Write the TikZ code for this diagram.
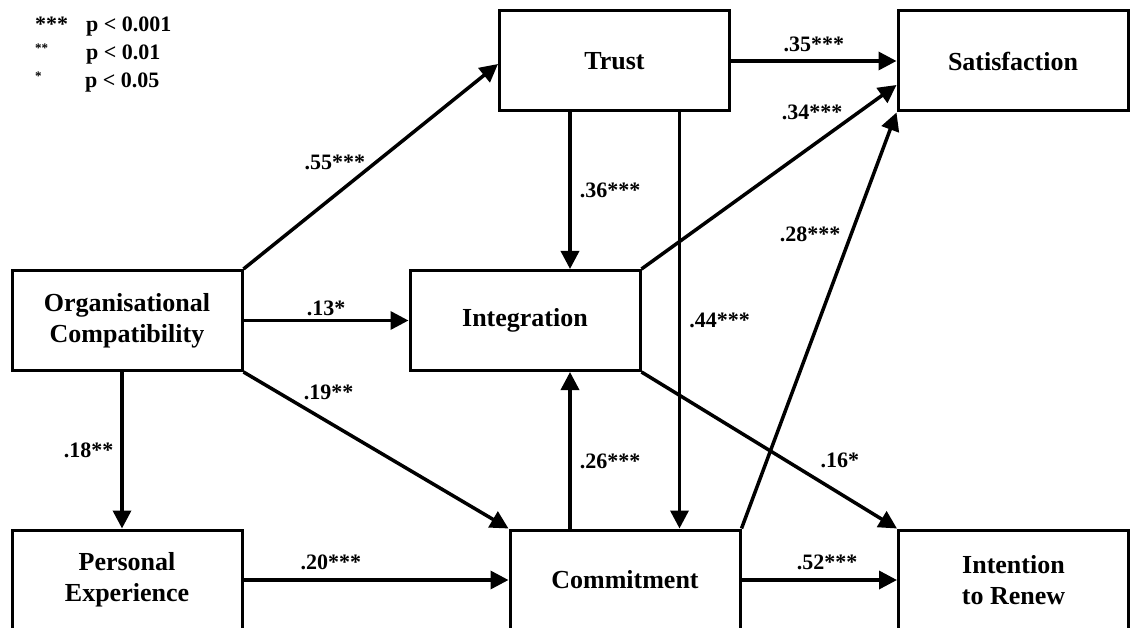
\documentclass[tikz,border=0pt]{standalone}
\usepackage{fontspec}
\setmainfont{Liberation Serif}
\usetikzlibrary{arrows.meta, positioning, calc}

\begin{document}
\begin{tikzpicture}[x=1pt, y=-1pt,
    construct/.style={rectangle, draw=black, line width=3pt, minimum width=230pt, minimum height=100pt, align=center, font=\fontsize{26}{31}\selectfont\bfseries},
    arrow/.style={-{Triangle[length=18pt, width=18pt]}, line width=3.5pt},
    coef/.style={font=\fontsize{22}{26}\selectfont\bfseries, inner sep=2pt},
    legend/.style={anchor=base west, inner sep=0pt, font=\fontsize{22}{26}\selectfont\bfseries},
    smallstar/.style={anchor=base west, inner sep=0pt, font=\fontsize{13}{15}\selectfont\bfseries}
]
\useasboundingbox (0,0) rectangle (1130,628);

% Legend
\node[legend] (s1) at (35,32) {***};
\node[legend] (p1) at (86,32) {p < 0.001};
\node[smallstar] (s2) at (35,53) {**};
\node[legend] (p2) at (86,60) {p < 0.01};
\node[smallstar] (s3) at (35,81) {*};
\node[legend] (p3) at (85,88) {p < 0.05};

% Constructs
\node[construct] (OC) at (127, 320.5) {Organisational\\Compatibility};
\node[construct] (Trust) at (614.5, 61) {Trust};
\node[construct] (Sat) at (1013, 61) {Satisfaction};
\node[construct] (Integ) at (525, 320.5) {Integration};
\node[construct] (Pers) at (127, 580) {Personal\\Experience};
\node[construct] (Commit) at (625, 580) {Commitment};
\node[construct] (Renew) at (1013.5, 580) {Intention\\to Renew};

% Attachment points
\coordinate (tA) at ([xshift=-44.5pt]Trust.south);
\coordinate (tB) at ([xshift=65pt]Trust.south);
\coordinate (oA) at ([xshift=-5pt]OC.south);

% Paths from Organisational Compatibility
\draw[arrow] (OC.north east) -- ([yshift=-3pt]Trust.west) node[pos=0.359, above=22pt] (c55) [coef] {.55***};
\draw[arrow] (OC.east) -- (Integ.west) node[midway, above=1pt] (c13) [coef] {.13*};
\draw[arrow] (OC.south east) -- (Commit.north west) node[pos=0.321, above=19pt] (c19) [coef] {.19**};
\draw[arrow] (oA) -- (oA |- Pers.north) node[midway, left=5pt] (c18) [coef] {.18**};

% Paths from Trust
\draw[arrow] (tA) -- (tA |- Integ.north) node[midway, right=6pt] (c36) [coef] {.36***};
\draw[arrow] (tB) -- (tB |- Commit.north) node[midway, right=6pt] (c44) [coef] {.44***};
\draw[arrow] (Trust.east) -- (Sat.west) node[midway, above=5pt] (c35) [coef] {.35***};

% Paths from Integration
\draw[arrow] (Integ.north east) -- ([yshift=-24pt]Sat.west) node[pos=0.669, above=22pt] (c34) [coef] {.34***};
\draw[arrow] (Integ.south east) -- (Renew.north west) node[pos=0.776, above=22pt] (c16) [coef] {.16*};

% Paths from Commitment and Personal Experience
\draw[arrow] (tA |- Commit.north) -- (tA |- Integ.south) node[pos=0.431, right=6pt] (c26) [coef] {.26***};
\draw[arrow] (Commit.north east) -- (Sat.south west) node[pos=0.708, left=7pt] (c28) [coef] {.28***};
\draw[arrow] (Commit.east) -- (Renew.west) node[pos=0.55, above=6pt] (c52) [coef] {.52***};
\draw[arrow] (Pers.east) -- (Commit.west) node[pos=0.33, above=6pt] (c20) [coef] {.20***};

\end{tikzpicture}
\end{document}
